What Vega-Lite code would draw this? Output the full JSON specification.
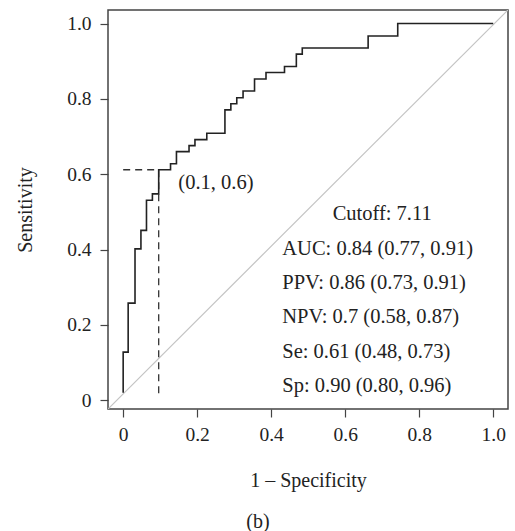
{
  "$schema": "https://vega.github.io/schema/vega-lite/v6.json",
  "width": 400,
  "height": 399,
  "autosize": {"type": "none"},
  "padding": {"left": 108, "top": 10, "right": 7, "bottom": 122},
  "background": "white",
  "config": {
    "font": "Liberation Serif",
    "view": {"stroke": "#444", "strokeWidth": 1.5},
    "axis": {
      "domain": false, "grid": false, "tickColor": "#444", "tickSize": 8, "tickWidth": 1.2,
      "labelFont": "Liberation Serif", "labelFontSize": 19.5, "labelColor": "#222",
      "titleFont": "Liberation Serif", "titleFontSize": 20, "titleFontWeight": "normal", "titleColor": "#222"
    },
    "title": {"font": "Liberation Serif", "fontSize": 20, "fontWeight": "normal", "color": "#222"}
  },
  "title": {"text": "(b)", "orient": "bottom", "anchor": "middle", "frame": "group", "dx": -50, "offset": 21},
  "datasets": {
    "roc": [
      {"o": 1, "fpr": 0, "tpr": 0.02},
      {"o": 2, "fpr": 0, "tpr": 0.128},
      {"o": 3, "fpr": 0.0135, "tpr": 0.128},
      {"o": 4, "fpr": 0.0135, "tpr": 0.258},
      {"o": 5, "fpr": 0.032, "tpr": 0.258},
      {"o": 6, "fpr": 0.032, "tpr": 0.402},
      {"o": 7, "fpr": 0.048, "tpr": 0.402},
      {"o": 8, "fpr": 0.048, "tpr": 0.451},
      {"o": 9, "fpr": 0.063, "tpr": 0.451},
      {"o": 10, "fpr": 0.063, "tpr": 0.531},
      {"o": 11, "fpr": 0.079, "tpr": 0.531},
      {"o": 12, "fpr": 0.079, "tpr": 0.548},
      {"o": 13, "fpr": 0.096, "tpr": 0.548},
      {"o": 14, "fpr": 0.096, "tpr": 0.612},
      {"o": 15, "fpr": 0.128, "tpr": 0.612},
      {"o": 16, "fpr": 0.128, "tpr": 0.628},
      {"o": 17, "fpr": 0.144, "tpr": 0.628},
      {"o": 18, "fpr": 0.144, "tpr": 0.66},
      {"o": 19, "fpr": 0.178, "tpr": 0.66},
      {"o": 20, "fpr": 0.178, "tpr": 0.676},
      {"o": 21, "fpr": 0.194, "tpr": 0.676},
      {"o": 22, "fpr": 0.194, "tpr": 0.692},
      {"o": 23, "fpr": 0.226, "tpr": 0.692},
      {"o": 24, "fpr": 0.226, "tpr": 0.709},
      {"o": 25, "fpr": 0.275, "tpr": 0.709},
      {"o": 26, "fpr": 0.275, "tpr": 0.771},
      {"o": 27, "fpr": 0.291, "tpr": 0.771},
      {"o": 28, "fpr": 0.291, "tpr": 0.787},
      {"o": 29, "fpr": 0.307, "tpr": 0.787},
      {"o": 30, "fpr": 0.307, "tpr": 0.803},
      {"o": 31, "fpr": 0.324, "tpr": 0.803},
      {"o": 32, "fpr": 0.324, "tpr": 0.821},
      {"o": 33, "fpr": 0.355, "tpr": 0.821},
      {"o": 34, "fpr": 0.355, "tpr": 0.853},
      {"o": 35, "fpr": 0.386, "tpr": 0.853},
      {"o": 36, "fpr": 0.386, "tpr": 0.87},
      {"o": 37, "fpr": 0.436, "tpr": 0.87},
      {"o": 38, "fpr": 0.436, "tpr": 0.886},
      {"o": 39, "fpr": 0.468, "tpr": 0.886},
      {"o": 40, "fpr": 0.468, "tpr": 0.919},
      {"o": 41, "fpr": 0.484, "tpr": 0.919},
      {"o": 42, "fpr": 0.484, "tpr": 0.935},
      {"o": 43, "fpr": 0.662, "tpr": 0.935},
      {"o": 44, "fpr": 0.662, "tpr": 0.967},
      {"o": 45, "fpr": 0.742, "tpr": 0.967},
      {"o": 46, "fpr": 0.742, "tpr": 1.0},
      {"o": 47, "fpr": 1.0, "tpr": 1.0}
    ],
    "diag": [
      {"o": 1, "fpr": -0.041, "tpr": -0.023},
      {"o": 2, "fpr": 1.04, "tpr": 1.036}
    ],
    "cut": [
      {"o": 1, "fpr": 0, "tpr": 0.612},
      {"o": 2, "fpr": 0.096, "tpr": 0.612},
      {"o": 3, "fpr": 0.096, "tpr": 0.015}
    ],
    "notes": [
      {"label": "(0.1, 0.6)", "fpr": 0.149, "tpr": 0.577, "kind": "left"},
      {"label": "Cutoff: 7.11", "fpr": 0.70, "tpr": 0.494, "kind": "center"},
      {"label": "AUC: 0.84 (0.77, 0.91)", "fpr": 0.43, "tpr": 0.402, "kind": "left"},
      {"label": "PPV: 0.86 (0.73, 0.91)", "fpr": 0.43, "tpr": 0.311, "kind": "left"},
      {"label": "NPV: 0.7 (0.58, 0.87)", "fpr": 0.43, "tpr": 0.22, "kind": "left"},
      {"label": "Se: 0.61 (0.48, 0.73)", "fpr": 0.43, "tpr": 0.128, "kind": "left"},
      {"label": "Sp: 0.90 (0.80, 0.96)", "fpr": 0.43, "tpr": 0.037, "kind": "left"}
    ]
  },
  "encoding": {
    "x": {
      "field": "fpr", "type": "quantitative",
      "scale": {"domain": [-0.041, 1.04], "nice": false, "zero": false},
      "axis": {"values": [0, 0.2, 0.4, 0.6, 0.8, 1.0], "title": "1 – Specificity", "labelPadding": 8, "titlePadding": 27,
               "labelExpr": "datum.value == 0 ? '0' : format(datum.value, '.1f')"}
    },
    "y": {
      "field": "tpr", "type": "quantitative",
      "scale": {"domain": [-0.023, 1.036], "nice": false, "zero": false},
      "axis": {"values": [0, 0.2, 0.4, 0.6, 0.8, 1.0], "title": "Sensitivity", "labelPadding": 9, "titlePadding": 31,
               "labelExpr": "datum.value == 0 ? '0' : format(datum.value, '.1f')"}
    }
  },
  "layer": [
    {
      "data": {"name": "diag"},
      "mark": {"type": "line", "color": "#c4c4c4", "strokeWidth": 1.2, "clip": true},
      "encoding": {"order": {"field": "o"}}
    },
    {
      "data": {"name": "cut"},
      "mark": {"type": "line", "color": "#333", "strokeWidth": 1.3, "strokeDash": [7, 5]},
      "encoding": {"order": {"field": "o"}}
    },
    {
      "data": {"name": "roc"},
      "mark": {"type": "line", "color": "#222", "strokeWidth": 1.6},
      "encoding": {"order": {"field": "o"}}
    },
    {
      "data": {"name": "notes"},
      "transform": [{"filter": "datum.kind == 'left'"}],
      "mark": {"type": "text", "align": "left", "baseline": "middle", "font": "Liberation Serif", "fontSize": 20.5, "color": "#222"},
      "encoding": {"text": {"field": "label"}}
    },
    {
      "data": {"name": "notes"},
      "transform": [{"filter": "datum.kind == 'center'"}],
      "mark": {"type": "text", "align": "center", "baseline": "middle", "font": "Liberation Serif", "fontSize": 20.5, "color": "#222"},
      "encoding": {"text": {"field": "label"}}
    }
  ]
}
